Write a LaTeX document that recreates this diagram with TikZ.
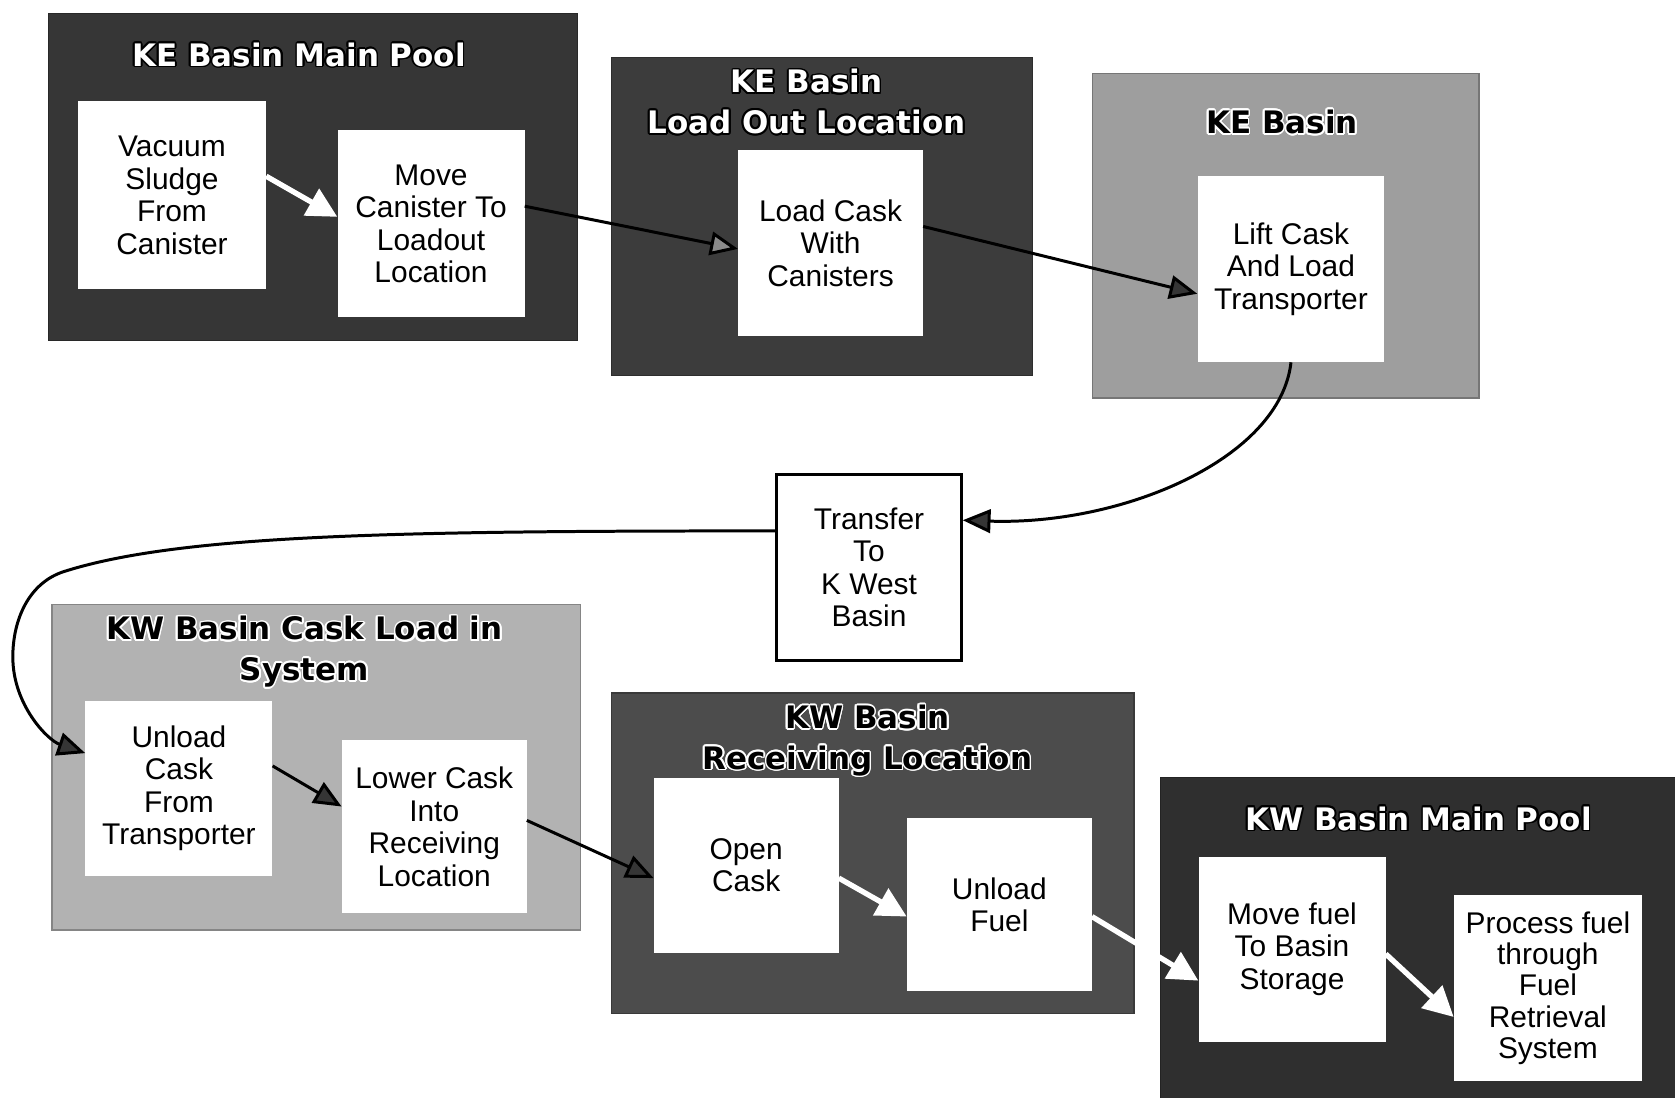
\documentclass[tikz,border=0pt]{standalone}
\usepackage{fontspec}
\setmainfont{Liberation Sans}
\newfontfamily\ttlfont{DejaVu Sans}
\usepackage{contour}
\contourlength{1.6pt}
\usetikzlibrary{arrows.meta}
\definecolor{darkA}{HTML}{363636}
\definecolor{darkB}{HTML}{3C3C3C}
\definecolor{darkC}{HTML}{4C4C4C}
\definecolor{darkD}{HTML}{2F2F2F}
\definecolor{lightA}{HTML}{9E9E9E}
\definecolor{lightB}{HTML}{B2B2B2}
\definecolor{headgray}{HTML}{353535}
\definecolor{headlight}{HTML}{8A8A8A}
\begin{document}
\begin{tikzpicture}[x=1pt,y=-1pt,
  region/.style={draw=#1!75!black, fill=#1, line width=1.2pt, anchor=north west, inner sep=0pt},
  stepbox/.style={fill=white, inner sep=0pt, align=center, font=\fontsize{28}{30.5}\selectfont},
  ttl/.style={align=center, inner sep=0pt, font=\ttlfont\bfseries\fontsize{29}{38}\selectfont},
  blk/.style={draw=black, line width=2.8pt, -{Triangle[length=26pt,width=22pt,fill=headgray]}},
  blkl/.style={draw=black, line width=2.8pt, -{Triangle[length=26pt,width=22pt,fill=headlight]}},
  wht/.style={draw=white, line width=5pt, -{Triangle[length=28pt,width=28pt,fill=white]}}
]
\useasboundingbox[fill=white] (0,0) rectangle (1568,1027);

% regions
\node[region=darkA, minimum width=495pt, minimum height=306pt] (keA) at (45,12) {};
\node[region=darkB, minimum width=394pt, minimum height=298pt] (keB) at (572,53) {};
\node[region=lightA, minimum width=362pt, minimum height=304pt] (keC) at (1022,68) {};
\node[region=lightB, minimum width=495pt, minimum height=305pt] (kwA) at (48,565) {};
\node[region=darkC, minimum width=489pt, minimum height=300pt] (kwB) at (572,648) {};
\node[region=darkD, minimum width=490pt, minimum height=310pt] (kwC) at (1086,727) {};

% titles
\node[ttl, text=white] (keAt) at (280,52) {\contour{black}{KE Basin Main Pool}};
\node[ttl, text=white] (keBt) at (755,96) {\contour{black}{KE Basin}\\\contour{black}{Load Out Location}};
\node[ttl, text=black] (keCt) at (1200,115) {\contour{white}{KE Basin}};
\node[ttl, text=black] (kwAt) at (285,611) {\contour{white}{KW Basin Cask Load in}\\\contour{white}{System}};
\node[ttl, text=black] (kwBt) at (812,694) {\contour{white}{KW Basin}\\\contour{white}{Receiving Location}};
\node[ttl, text=white] (kwCt) at (1328,767) {\contour{black}{KW Basin Main Pool}};

% steps
\node[stepbox, minimum width=176pt, minimum height=176pt] (vac) at (161,183) {Vacuum\\Sludge\\From\\Canister};
\node[stepbox, minimum width=175pt, minimum height=175pt] (mov) at (403.5,209.5) {Move\\Canister To\\Loadout\\Location};
\node[stepbox, minimum width=173pt, minimum height=175pt] (lcw) at (777.5,227.5) {Load Cask\\With\\Canisters};
\node[stepbox, minimum width=175pt, minimum height=174pt] (lift) at (1208.5,252) {Lift Cask\\And Load\\Transporter};
\node[stepbox, draw=black, line width=2.5pt, minimum width=173pt, minimum height=174pt] (xfer) at (813.5,531) {Transfer\\To\\K West\\Basin};
\node[stepbox, minimum width=175pt, minimum height=164pt] (unl) at (167.5,738) {Unload\\Cask\\From\\Transporter};
\node[stepbox, minimum width=173pt, minimum height=162pt] (low) at (406.5,774) {Lower Cask\\Into\\Receiving\\Location};
\node[stepbox, minimum width=173pt, minimum height=164pt] (open) at (698.5,810) {Open\\Cask};
\node[stepbox, minimum width=173pt, minimum height=162pt] (ufuel) at (935.5,847) {Unload\\Fuel};
\node[stepbox, minimum width=175pt, minimum height=173pt] (mfuel) at (1209.5,888.5) {Move fuel\\To Basin\\Storage};
\node[stepbox, minimum width=176pt, minimum height=174pt, font=\fontsize{28}{29.3}\selectfont] (proc) at (1449,925) {Process fuel\\through\\Fuel\\Retrieval\\System};

% connectors
\draw[wht] ([yshift=18pt]vac.east) -- ([yshift=6.5pt]mov.west);
\draw[blkl] ([yshift=16.5pt]mov.east) -- ([yshift=-5.5pt]lcw.west);
\draw[blk] ([yshift=15.5pt]lcw.east) -- ([yshift=-23pt]lift.west);
\draw[blk] (lift.south) .. controls +(-10,90) and +(150,5) .. ([yshift=44pt]xfer.east);
\coordinate (w0) at (60,535);
\coordinate (w1) at (12,615);
\draw[blk] ([yshift=34pt]xfer.west) .. controls +(-350,0) and +(110,-35) .. (w0)
  .. controls +(-33,10.5) and +(0,-35) .. (w1)
  .. controls +(0,45) and +(-35,-12) .. ([yshift=33pt]unl.west);
\draw[blk] ([yshift=21pt]unl.east) -- ([yshift=19pt]low.west);
\draw[blk] ([yshift=6pt]low.east) -- ([yshift=-12pt]open.west);
\draw[wht] ([yshift=-12pt]open.east) -- ([yshift=-11pt]ufuel.west);
\draw[wht] ([yshift=-11pt]ufuel.east) -- ([yshift=-29.5pt]mfuel.west);
\draw[wht] ([yshift=-4.5pt]mfuel.east) -- ([yshift=-27pt]proc.west);
\end{tikzpicture}
\end{document}
